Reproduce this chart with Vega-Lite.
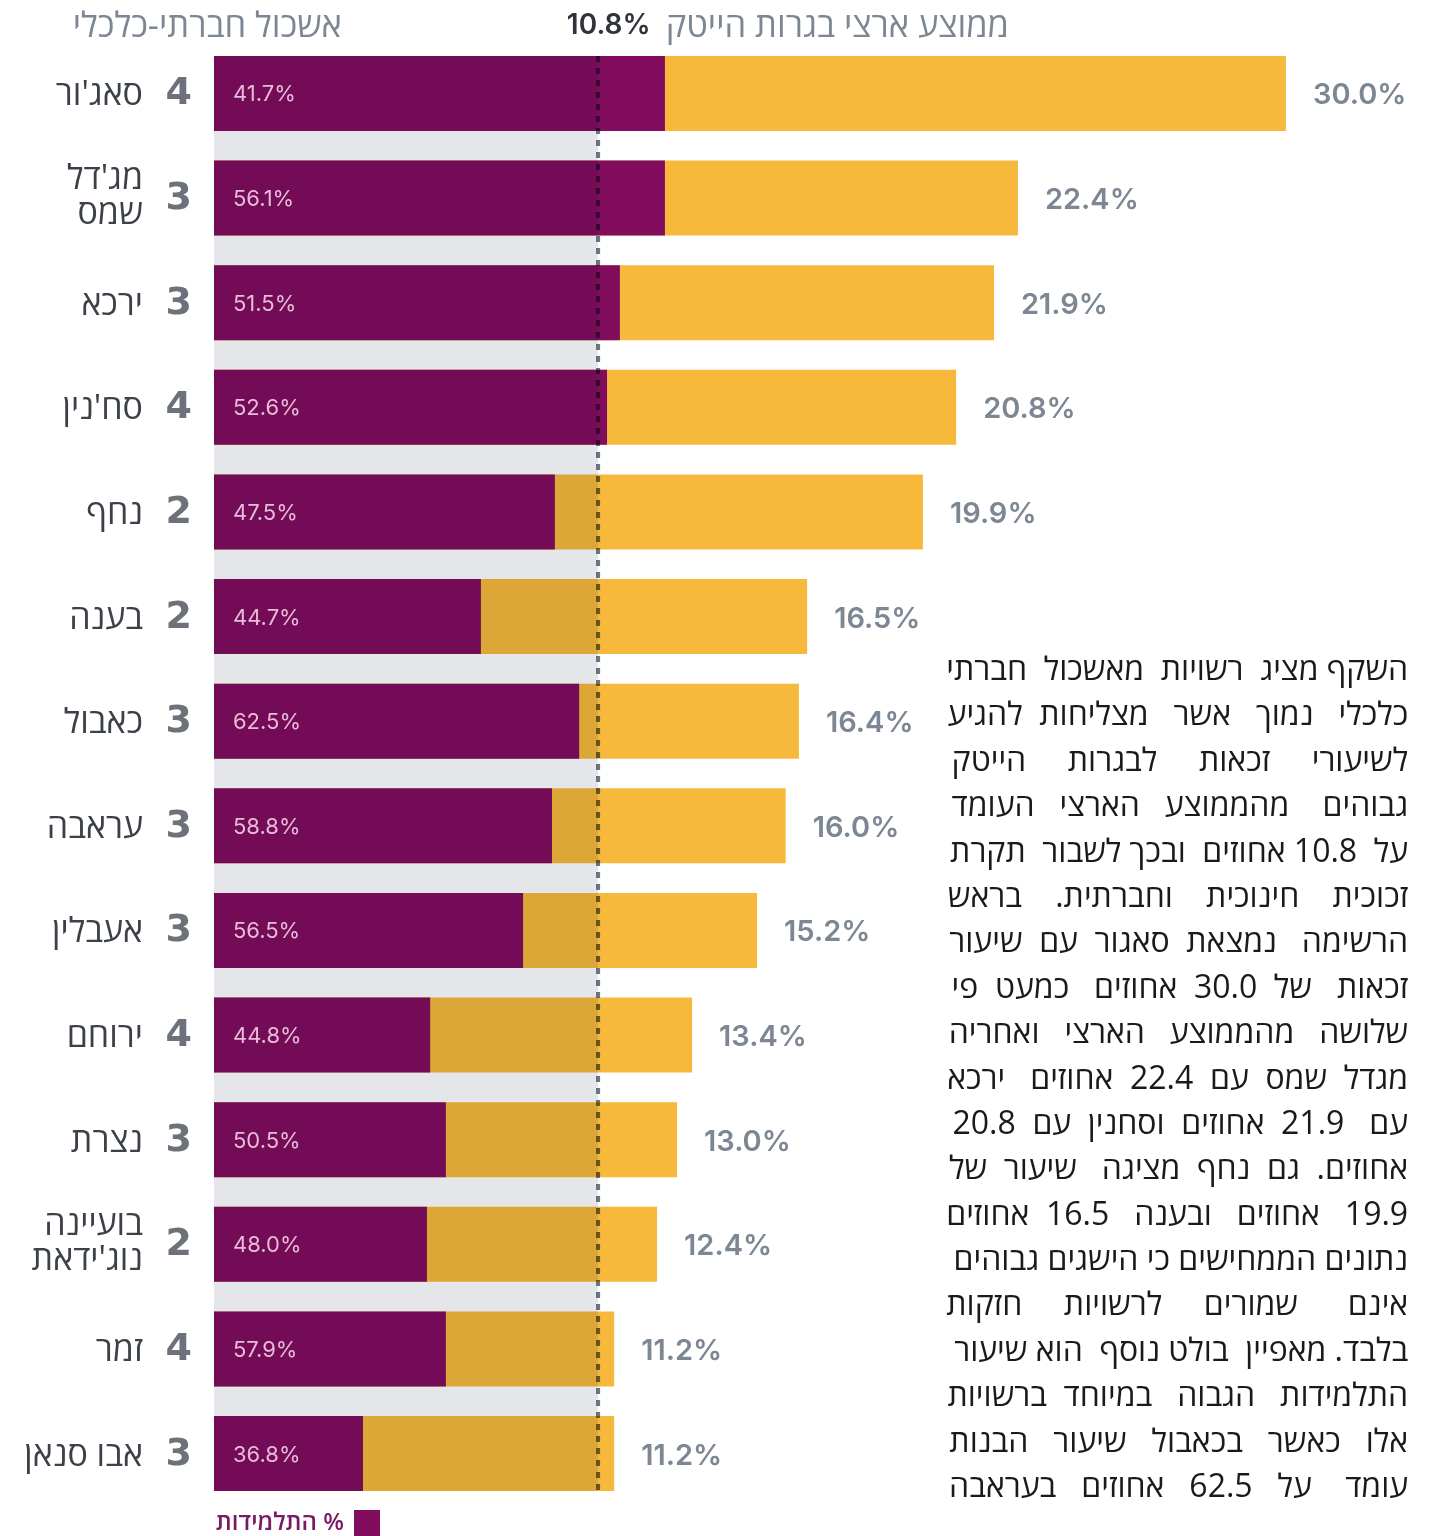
{"$schema":"https://vega.github.io/schema/vega-lite/v6.json","width":1446,"height":1536,"padding":0,"autosize":{"type":"none"},"background":"white","view":{"stroke":null},"datasets":{"rows":[{"city":"סאג'ור","cluster":"4","share":"41.7%","girls":12.62,"total":30,"rate":"30.0%"},{"city":"מג'דל\nשמס","cluster":"3","share":"56.1%","girls":12.62,"total":22.5,"rate":"22.4%"},{"city":"ירכא","cluster":"3","share":"51.5%","girls":11.36,"total":21.83,"rate":"21.9%"},{"city":"סח'נין","cluster":"4","share":"52.6%","girls":11.0,"total":20.77,"rate":"20.8%"},{"city":"נחף","cluster":"2","share":"47.5%","girls":9.54,"total":19.84,"rate":"19.9%"},{"city":"בענה","cluster":"2","share":"44.7%","girls":7.47,"total":16.6,"rate":"16.5%"},{"city":"כאבול","cluster":"3","share":"62.5%","girls":10.22,"total":16.37,"rate":"16.4%"},{"city":"עראבה","cluster":"3","share":"58.8%","girls":9.46,"total":16.0,"rate":"16.0%"},{"city":"אעבלין","cluster":"3","share":"56.5%","girls":8.65,"total":15.2,"rate":"15.2%"},{"city":"ירוחם","cluster":"4","share":"44.8%","girls":6.05,"total":13.38,"rate":"13.4%"},{"city":"נצרת","cluster":"3","share":"50.5%","girls":6.49,"total":12.96,"rate":"13.0%"},{"city":"בועיינה\nנוג'ידאת","cluster":"2","share":"48.0%","girls":5.96,"total":12.4,"rate":"12.4%"},{"city":"זמר","cluster":"4","share":"57.9%","girls":6.49,"total":11.2,"rate":"11.2%"},{"city":"אבו סנאן","cluster":"3","share":"36.8%","girls":4.17,"total":11.2,"rate":"11.2%"}],"heads":[{"t":"אשכול חברתי-כלכלי","x":3.58},{"t":"ממוצע ארצי בגרות הייטק","x":22.25}],"para":[{"n":1,"t":"השקף מציג \u00a0רשויות \u00a0מאשכול \u00a0חברתי"},{"n":2,"t":"כלכלי \u00a0\u00a0נמוך \u00a0\u00a0אשר \u00a0\u00a0מצליחות \u00a0להגיע"},{"n":3,"t":"לשיעורי \u00a0\u00a0\u00a0\u00a0זכאות \u00a0\u00a0\u00a0\u00a0לבגרות \u00a0\u00a0\u00a0\u00a0הייטק"},{"n":4,"t":"גבוהים \u00a0\u00a0\u00a0מהממוצע \u00a0\u00a0הארצי \u00a0\u00a0העומד"},{"n":5,"t":"על \u00a010.8 אחוזים \u00a0ובכך לשבור \u00a0תקרת"},{"n":6,"t":"זכוכית \u00a0\u00a0\u00a0חינוכית \u00a0\u00a0\u00a0וחברתית. \u00a0\u00a0\u00a0בראש"},{"n":7,"t":"הרשימה \u00a0\u00a0נמצאת \u00a0סאגור \u00a0עם \u00a0שיעור"},{"n":8,"t":"זכאות \u00a0\u00a0של \u00a030.0 \u00a0אחוזים \u00a0\u00a0כמעט \u00a0פי"},{"n":9,"t":"שלושה \u00a0\u00a0מהממוצע \u00a0\u00a0הארצי \u00a0\u00a0ואחריה"},{"n":10,"t":"מגדל \u00a0שמס \u00a0עם \u00a022.4 \u00a0אחוזים \u00a0\u00a0ירכא"},{"n":11,"t":"עם \u00a0\u00a021.9 \u00a0אחוזים \u00a0וסחנין \u00a0עם \u00a020.8"},{"n":12,"t":"אחוזים. \u00a0גם \u00a0נחף \u00a0מציגה \u00a0\u00a0שיעור \u00a0של"},{"n":13,"t":"\u200f19.9 \u00a0\u00a0אחוזים \u00a0\u00a0ובענה \u00a0\u00a016.5 \u00a0אחוזים"},{"n":14,"t":"נתונים הממחישים כי הישגים גבוהים"},{"n":15,"t":"אינם \u00a0\u00a0\u00a0\u00a0\u00a0שמורים \u00a0\u00a0\u00a0\u00a0לרשויות \u00a0\u00a0\u00a0\u00a0חזקות"},{"n":16,"t":"בלבד. מאפיין \u00a0בולט נוסף \u00a0הוא שיעור"},{"n":17,"t":"התלמידות \u00a0\u00a0הגבוה \u00a0\u00a0במיוחד \u00a0ברשויות"},{"n":18,"t":"אלו \u00a0\u00a0כאשר \u00a0\u00a0בכאבול \u00a0\u00a0שיעור \u00a0\u00a0הבנות"},{"n":19,"t":"עומד \u00a0\u00a0\u00a0על \u00a0\u00a062.5 \u00a0\u00a0אחוזים \u00a0\u00a0בעראבה"}]},"encoding":{"x":{"type":"quantitative","scale":{"domain":[-5.989,34.48],"nice":false,"zero":false},"axis":null}},"layer":[{"data":{"name":"rows"},"encoding":{"y":{"field":"city","type":"nominal","sort":null,"axis":null,"scale":{"type":"band","range":[56,1491],"paddingInner":0.284,"paddingOuter":0}}},"layer":[{"mark":{"type":"bar","color":"#f6b93b"},"encoding":{"x":{"field":"total","type":"quantitative"}}},{"mark":{"type":"bar"},"encoding":{"x":{"field":"girls","type":"quantitative"},"color":{"datum":"\u200f% התלמידות","scale":{"range":["#820c5e"]},"legend":{"title":null,"orient":"none","legendX":354,"legendY":1510,"symbolType":"square","symbolSize":676,"symbolOpacity":1,"symbolStrokeWidth":0,"labelAlign":"right","labelOffset":-36,"labelFont":"Open Sans","labelFontSize":24,"labelFontWeight":600,"labelColor":"#7a1a62","padding":0,"offset":0}}}}]},{"data":{"values":[{"from":0,"to":1}]},"encoding":{"y":{"field":"from","type":"quantitative","axis":null,"scale":{"domain":[0,1],"range":[56,1491],"nice":false,"zero":false}},"y2":{"field":"to"}},"layer":[{"mark":{"type":"rect","color":"#e4e6e9","blend":"multiply"},"encoding":{"x":{"datum":0},"x2":{"datum":10.75}}},{"mark":{"type":"rule","color":"#6f7885","strokeWidth":4,"strokeDash":[6,6],"blend":"multiply"},"encoding":{"x":{"datum":10.75}}}]},{"data":{"name":"rows"},"encoding":{"y":{"field":"city","type":"nominal","sort":null,"axis":null,"scale":{"type":"band","range":[56,1491],"paddingInner":0.284,"paddingOuter":0}}},"layer":[{"mark":{"type":"text","align":"left","baseline":"middle","dy":1,"font":"Inter","fontSize":22,"color":"#e8bcd8"},"encoding":{"x":{"datum":0.53},"text":{"field":"share"}}},{"mark":{"type":"text","align":"left","baseline":"middle","dx":27,"dy":2,"font":"Inter","fontSize":29,"fontWeight":600,"color":"#7d8693"},"encoding":{"x":{"field":"total","type":"quantitative"},"text":{"field":"rate"}}},{"transform":[{"filter":"indexof(datum.city, '\\n') < 0"}],"mark":{"type":"text","align":"right","dir":"rtl","baseline":"middle","dy":2,"font":"Open Sans","fontSize":34,"fontWeight":500,"color":"#3c4048"},"encoding":{"x":{"datum":-1.987},"text":{"field":"city"}}},{"transform":[{"filter":"indexof(datum.city, '\\n') >= 0"}],"mark":{"type":"text","align":"right","dir":"rtl","baseline":"middle","dy":-19,"lineBreak":"\n","lineHeight":35,"font":"Open Sans","fontSize":34,"fontWeight":500,"color":"#3c4048"},"encoding":{"x":{"datum":-1.987},"text":{"field":"city"}}},{"mark":{"type":"text","align":"right","baseline":"middle","font":"DejaVu Sans","fontWeight":"bold","fontSize":38,"color":"#6d727a"},"encoding":{"x":{"datum":-0.616},"text":{"field":"cluster"}}}]},{"data":{"values":[{"t":"10.8%","x":12.22,"h":0}]},"mark":{"type":"text","align":"right","baseline":"middle","dy":1,"font":"Inter","fontSize":28,"fontWeight":600,"color":"#30343a"},"encoding":{"x":{"field":"x","type":"quantitative"},"y":{"field":"h","type":"quantitative","axis":null,"scale":{"domain":[0,1],"range":[25,26],"zero":false,"nice":false}},"text":{"field":"t"}}},{"data":{"name":"heads"},"mark":{"type":"text","align":"right","dir":"rtl","baseline":"middle","dy":2,"font":"Open Sans","fontSize":34.5,"color":"#7d8693"},"encoding":{"x":{"field":"x","type":"quantitative"},"y":{"datum":0,"type":"quantitative","axis":null,"scale":{"domain":[0,1],"range":[25,26],"zero":false,"nice":false}},"text":{"field":"t"}}},{"data":{"name":"para"},"mark":{"type":"text","align":"right","dir":"rtl","baseline":"middle","dy":2,"font":"Open Sans","fontSize":32,"color":"#1a1a1a"},"encoding":{"x":{"datum":33.42},"y":{"field":"n","type":"quantitative","axis":null,"scale":{"domain":[1,19],"range":[668,1485],"zero":false,"nice":false}},"text":{"field":"t"}}}],"resolve":{"scale":{"y":"independent","color":"independent"}}}
